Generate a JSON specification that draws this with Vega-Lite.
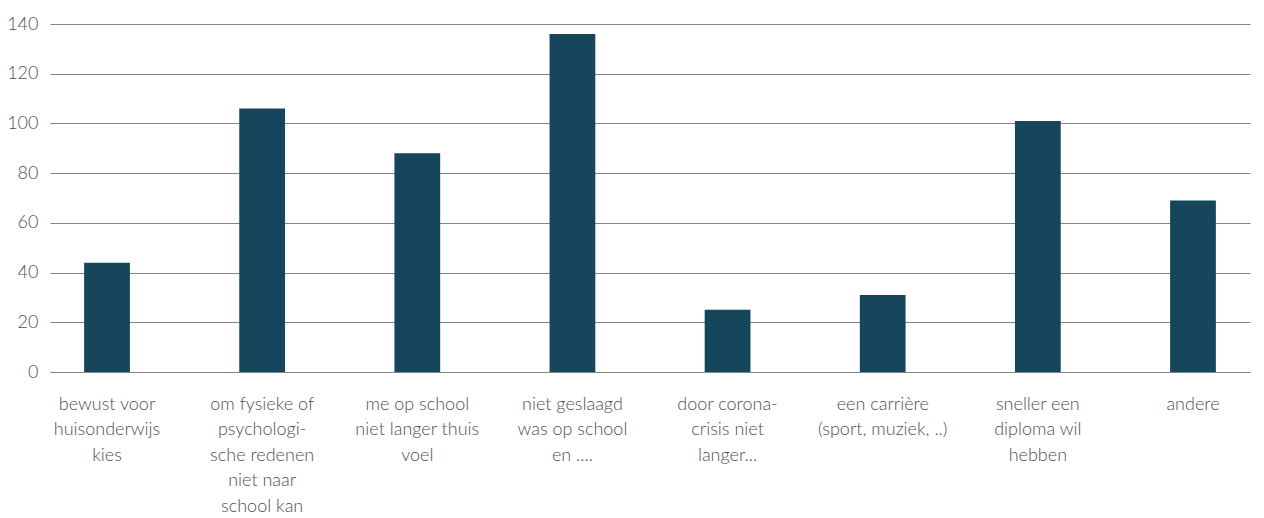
{
  "$schema": "https://vega.github.io/schema/vega-lite/v6.json",
  "autosize": "none",
  "width": 1200,
  "height": 348,
  "padding": {"left": 50, "top": 24, "right": 14, "bottom": 146},
  "background": "white",
  "config": {
    "view": {"stroke": null},
    "font": "Lato"
  },
  "data": {
    "values": [
      {"reden": "bewust voor|huisonderwijs|kies", "aantal": 44},
      {"reden": "om fysieke of|psychologi-|sche redenen|niet naar|school kan", "aantal": 106},
      {"reden": "me op school|niet langer thuis|voel", "aantal": 88},
      {"reden": "niet geslaagd|was op school|en ....", "aantal": 136},
      {"reden": "door corona-|crisis niet|langer...", "aantal": 25},
      {"reden": "een carrière|(sport, muziek, ..)", "aantal": 31},
      {"reden": "sneller een|diploma wil|hebben", "aantal": 101},
      {"reden": "andere", "aantal": 69}
    ]
  },
  "mark": {"type": "bar", "color": "#15465b"},
  "encoding": {
    "x": {
      "field": "reden",
      "type": "nominal",
      "sort": null,
      "scale": {"paddingInner": 0.705, "paddingOuter": 0.22},
      "axis": {
        "title": null,
        "labelAngle": 0,
        "labelExpr": "split(datum.label, '|')",
        "labelFont": "Lato",
        "labelFontWeight": 300,
        "labelFontSize": 18,
        "labelLineHeight": 25.5,
        "labelColor": "#505050",
        "labelPadding": 23,
        "labelLimit": 0,
        "labelBaseline": "top",
        "ticks": false,
        "tickSize": 0,
        "domain": false
      }
    },
    "y": {
      "field": "aantal",
      "type": "quantitative",
      "scale": {"domain": [0, 140]},
      "axis": {
        "title": null,
        "values": [0, 20, 40, 60, 80, 100, 120, 140],
        "labelFont": "Lato",
        "labelFontWeight": 300,
        "labelFontSize": 18,
        "labelColor": "#505050",
        "labelPadding": 12,
        "ticks": false,
        "tickSize": 0,
        "domain": false,
        "grid": true,
        "gridColor": "#858585",
        "gridWidth": 1
      }
    }
  }
}
